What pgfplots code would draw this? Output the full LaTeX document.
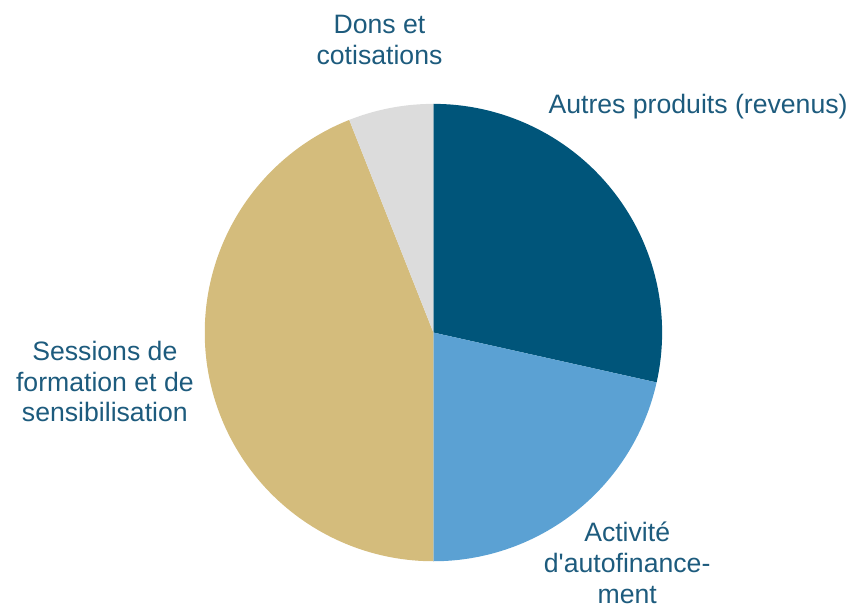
\documentclass[border=0pt]{standalone}
\usepackage{pgfplots}
\pgfplotsset{compat=1.18}
\usepackage{fontspec}
\setmainfont{Liberation Sans}

\definecolor{autres}{HTML}{00557A}
\definecolor{activite}{HTML}{5BA1D3}
\definecolor{sessions}{HTML}{D4BC7C}
\definecolor{dons}{HTML}{DCDCDC}
\definecolor{lblcol}{HTML}{1D5B7D}

% shares of the pie (percent), clockwise from 12 o'clock
\def\vAutres{28.5}
\def\vActivite{21.5}
\def\vSessions{44}
\def\vDons{6}

\begin{document}
\begin{tikzpicture}[
    pielbl/.style={text=lblcol, align=center, font=\fontsize{20}{23.25}\selectfont},
]
\pgfmathsetmacro{\aA}{90}
\pgfmathsetmacro{\aB}{\aA-3.6*\vAutres}
\pgfmathsetmacro{\aC}{\aB-3.6*\vActivite}
\pgfmathsetmacro{\aD}{\aC-3.6*\vSessions}
\pgfmathsetmacro{\aE}{\aD-3.6*\vDons}
\begin{axis}[
    width=639pt, height=454.5pt, scale only axis,
    xmin=0, xmax=852, ymin=0, ymax=606,
    hide axis, clip=false,
]
\path (axis cs:0,0) (axis cs:852,606);
\addplot[fill=autres, draw=none, domain=\aB:\aA, samples=80]
    ({434+229*cos(x)},{273+229*sin(x)}) -- (axis cs:434,273) -- cycle;
\addplot[fill=activite, draw=none, domain=\aC:\aB, samples=80]
    ({434+229*cos(x)},{273+229*sin(x)}) -- (axis cs:434,273) -- cycle;
\addplot[fill=sessions, draw=none, domain=\aD:\aC, samples=120]
    ({434+229*cos(x)},{273+229*sin(x)}) -- (axis cs:434,273) -- cycle;
\addplot[fill=dons, draw=none, domain=\aE:\aD, samples=30]
    ({434+229*cos(x)},{273+229*sin(x)}) -- (axis cs:434,273) -- cycle;

\node[pielbl] at (axis cs:380,566) {Dons et\\cotisations};
\node[pielbl] at (axis cs:699,499) {Autres produits (revenus)};
\node[pielbl] at (axis cs:105,224) {Sessions de\\formation et de\\sensibilisation};
\node[pielbl] at (axis cs:628,42) {Activité\\d\textquotesingle autofinance-\\ment};
\end{axis}
\end{tikzpicture}
\end{document}
